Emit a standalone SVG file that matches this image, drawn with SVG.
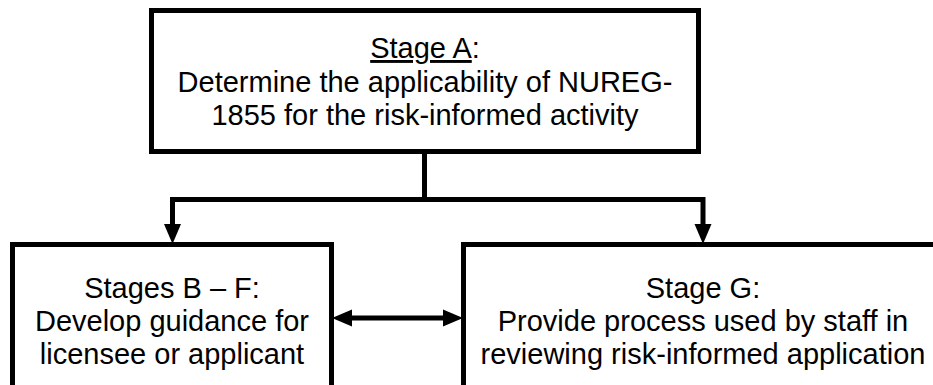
<svg xmlns="http://www.w3.org/2000/svg" width="933" height="385" viewBox="0 0 933 385">
  <style>
    .box { fill: #ffffff; stroke: #000000; stroke-width: 5; }
    .label { font-family: "Liberation Sans", Arial, sans-serif; font-size: 29px; fill: #000000; text-anchor: middle; }
    .wire { fill: none; stroke: #000000; stroke-width: 5; stroke-linejoin: miter; }
  </style>
  <defs>
    <marker id="head" markerUnits="userSpaceOnUse" markerWidth="20" markerHeight="17" refX="0" refY="8.5" orient="auto-start-reverse" overflow="visible">
      <path d="M0,0 L20,8.5 L0,17 Z" fill="#000000"/>
    </marker>
  </defs>
  <rect width="933" height="385" fill="#ffffff"/>

  <g id="stage-a">
    <rect class="box" x="151.5" y="10.5" width="547" height="141"/>
    <text class="label" x="425" y="58"><tspan style="text-decoration:underline">Stage A</tspan>:</text>
    <text class="label" x="425" y="92">Determine the applicability of NUREG-</text>
    <text class="label" x="425" y="125">1855 for the risk-informed activity</text>
  </g>

  <g id="stages-b-f">
    <rect class="box" x="12.5" y="244.5" width="319" height="160"/>
    <text class="label" x="172" y="298">Stages B – F:</text>
    <text class="label" x="172" y="331">Develop guidance for</text>
    <text class="label" x="172" y="364">licensee or applicant</text>
  </g>

  <g id="stage-g">
    <rect class="box" x="463.5" y="244.5" width="480" height="160"/>
    <text class="label" x="703" y="298">Stage G:</text>
    <text class="label" x="703" y="331">Provide process used by staff in</text>
    <text class="label" x="703" y="364">reviewing risk-informed application</text>
  </g>

  <g id="connectors">
    <path class="wire" d="M424.5,154 V199.5 H172.5 V224" marker-end="url(#head)"/>
    <path class="wire" d="M424.5,199.5 H703 V224" marker-end="url(#head)"/>
    <path class="wire" d="M352,318 H443" marker-start="url(#head)" marker-end="url(#head)"/>
  </g>
</svg>
